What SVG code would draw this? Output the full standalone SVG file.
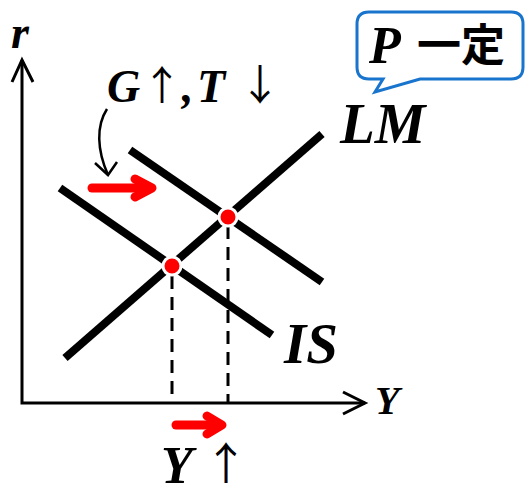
<svg xmlns="http://www.w3.org/2000/svg" width="526" height="493" viewBox="0 0 526 493">
<style>
.m{font-family:"Liberation Serif","Times New Roman",serif;font-style:italic;font-weight:bold;fill:#000}
.ar{font-family:"Noto Sans CJK JP","Noto Sans CJK SC",sans-serif;font-weight:normal;fill:#000;text-anchor:middle}
.cjk{font-family:"Noto Sans CJK JP","Noto Sans CJK SC",sans-serif;font-weight:bold;fill:#000}
.curve{stroke:#000;stroke-width:8;stroke-linecap:butt;fill:none}
.axis{stroke:#000;stroke-width:3;fill:none}
.dash{stroke:#000;stroke-width:3;stroke-dasharray:13 8;fill:none}
.red{stroke:#ff0000;stroke-width:9;stroke-linecap:round;stroke-linejoin:round;fill:none}
.dot{fill:#ff0000;stroke:#fff;stroke-width:3}
</style>
<rect width="526" height="493" fill="#fff"/>
<g id="connectors">
<polyline class="axis" points="22,60 22,403 365,403"/>
<polyline class="axis" points="12,82 22,60 33,82"/>
<polyline class="axis" points="343,392 365,403 343,414"/>
<line class="dash" x1="172" y1="276" x2="172" y2="402"/>
<line class="dash" x1="228" y1="226" x2="228" y2="402"/>
<path d="M107,109 C96,126 97,150 108,175" stroke="#000" stroke-width="2.5" fill="none"/>
<polyline points="95,163 108,175 117,162" stroke="#000" stroke-width="2.5" fill="none"/>
</g>
<g id="LM"><line class="curve" x1="65" y1="358" x2="322" y2="134"/><text class="m" x="340" y="143" font-size="57">LM</text></g>
<g id="IS1"><line class="curve" x1="60" y1="188" x2="272" y2="335"/><text class="m" x="284" y="363" font-size="57">IS</text></g>
<g id="IS2"><line class="curve" x1="130" y1="150" x2="322" y2="282"/></g>
<g id="E1"><circle class="dot" cx="172" cy="266" r="9"/></g>
<g id="E2"><circle class="dot" cx="228" cy="217" r="9"/></g>
<g id="shift-IS">
<line class="red" x1="92" y1="188" x2="150" y2="188" stroke-linecap="butt"/>
<polyline class="red" points="135,179 152,188 135,197"/>
</g>
<g id="shift-Y">
<line class="red" x1="176" y1="425" x2="220" y2="425" stroke-linecap="butt"/>
<polyline class="red" points="207,416 222,425 207,434"/>
</g>
<g id="labels">
<text class="m" x="11" y="48" font-size="46">r</text>
<text class="m" x="375" y="414" font-size="40">Y</text>
<text class="m" x="107" y="102" font-size="46">G</text>
<text class="ar" x="162" y="100" font-size="40">↑</text>
<text class="m" x="182" y="102" font-size="46">,</text>
<text class="m" x="197" y="102" font-size="46">T</text>
<text class="ar" x="260" y="100" font-size="42">↓</text>
<text class="m" x="161" y="483" font-size="52">Y</text>
<text class="ar" x="226" y="480" font-size="44">↑</text>
</g>
<g id="bubble">
<path d="M369,12 H511 Q523,12 523,24 V67 Q523,79 511,79 H420 L375,92 L383,79 H369 Q357,79 357,67 V24 Q357,12 369,12 Z" fill="#fff" stroke="#1874cd" stroke-width="3"/>
<text class="m" x="369" y="63" font-size="52">P</text>
<text class="cjk" x="417" y="61" font-size="44">一定</text>
</g>
</svg>
